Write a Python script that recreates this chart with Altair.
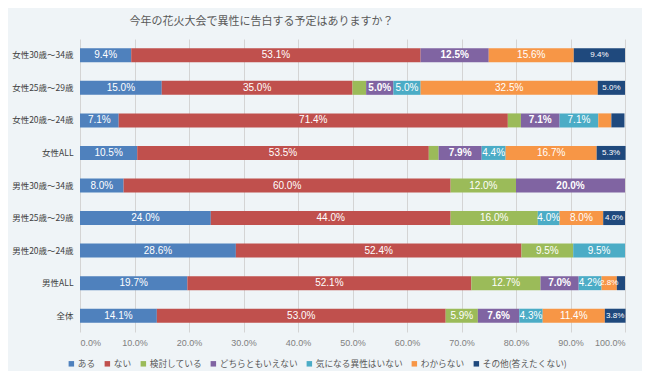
import altair as alt
import pandas as pd

groups = ["女性30歳～34歳", "女性25歳～29歳", "女性20歳～24歳", "女性ALL",
          "男性30歳～34歳", "男性25歳～29歳", "男性20歳～24歳", "男性ALL", "全体"]
answers = ["ある", "ない", "検討している", "どちらともいえない",
           "気になる異性はいない", "わからない", "その他(答えたくない)"]

aru = [9.4, 15.0, 7.1, 10.5, 8.0, 24.0, 28.6, 19.7, 14.1]
nai = [53.1, 35.0, 71.4, 53.5, 60.0, 44.0, 52.4, 52.1, 53.0]
kentou = [0.0, 2.5, 2.4, 1.8, 12.0, 16.0, 9.5, 12.7, 5.9]
dochira = [12.5, 5.0, 7.1, 7.9, 20.0, 0.0, 0.0, 7.0, 7.6]
kininaru = [0.0, 5.0, 7.1, 4.4, 0.0, 4.0, 9.5, 4.2, 4.3]
wakaranai = [15.6, 32.5, 2.4, 16.7, 0.0, 8.0, 0.0, 2.8, 11.4]
sonota = [9.4, 5.0, 2.4, 5.3, 0.0, 4.0, 0.0, 1.5, 3.8]
series = [aru, nai, kentou, dochira, kininaru, wakaranai, sonota]

colors = ["#4F81BD", "#C0504D", "#9BBB59", "#8064A2", "#4BACC6", "#F79646", "#1F497D"]
ticks = [0, 10, 20, 30, 40, 50, 60, 70, 80, 90, 100]

rows = []
for si, (name, vals) in enumerate(zip(answers, series)):
    for g, v in zip(groups, vals):
        rows.append({"group": g, "answer": name, "order": si, "value": v})
df = pd.DataFrame(rows)

JP = "Noto Sans CJK JP"

yenc = alt.Y("group:N", sort=groups,
             scale=alt.Scale(paddingInner=0.57, paddingOuter=0.285),
             axis=alt.Axis(title=None, domain=False, ticks=False, labelPadding=7,
                           labelFontSize=8.5, labelColor="#404040", labelFont=JP))

bars = alt.Chart(df).mark_bar().encode(
    x=alt.X("value:Q", stack="zero",
            scale=alt.Scale(domain=[0, 100], nice=False),
            axis=alt.Axis(title=None, values=ticks, domain=False, ticks=False,
                          labelExpr="format(datum.value, '.1f') + '%'",
                          grid=True, gridColor="#D4D4D4", labelPadding=6,
                          labelFontSize=9, labelColor="#808080",
                          labelFont="Liberation Sans")),
    y=yenc,
    color=alt.Color("answer:N", sort=answers,
                    scale=alt.Scale(domain=answers, range=colors),
                    legend=alt.Legend(title=None, orient="none", legendX=-13, legendY=320,
                                      direction="horizontal", symbolType="square",
                                      symbolSize=30, symbolStrokeWidth=0,
                                      labelFontSize=8.7, labelFont=JP,
                                      labelColor="#595959", columnPadding=7,
                                      labelOffset=2)),
    order=alt.Order("order:Q", sort="ascending"),
)

lab_base = alt.Chart(df).transform_stack(
    stack="value", groupby=["group"], as_=["x0", "x1"],
    sort=[alt.SortField("order", order="ascending")]
).transform_filter("datum.value >= 2.6").transform_calculate(
    mid="(datum.x0 + datum.x1) / 2",
    label="format(datum.value, '.1f') + '%'",
    fs="(datum.order == 6 || datum.value < 3.5) ? 8 : 10",
)

labels_normal = lab_base.transform_filter("datum.order != 3").mark_text(
    color="white", font="Liberation Sans", baseline="middle", align="center"
).encode(x="mid:Q", y=alt.Y("group:N", sort=groups), text="label:N",
         size=alt.Size("fs:Q", scale=None))

labels_bold = lab_base.transform_filter("datum.order == 3").mark_text(
    color="white", font="Liberation Sans", baseline="middle", align="center",
    fontWeight="bold", fontSize=10
).encode(x="mid:Q", y=alt.Y("group:N", sort=groups), text="label:N")

chart = alt.layer(bars, labels_normal, labels_bold).properties(
    width=545, height=293,
    title=alt.TitleParams("今年の花火大会で異性に告白する予定はありますか？",
                          anchor="middle", frame="group", dx=-91, offset=12,
                          fontSize=11, font=JP, fontWeight="normal", color="#595959"),
    autosize=alt.AutoSizeParams(type="none"),
    padding={"left": 72, "top": 31, "right": 17, "bottom": 39},
    background="#EFF4F7",
).configure_view(stroke=None)

chart.save("out.html", embed_options={"renderer": "svg", "actions": False})
